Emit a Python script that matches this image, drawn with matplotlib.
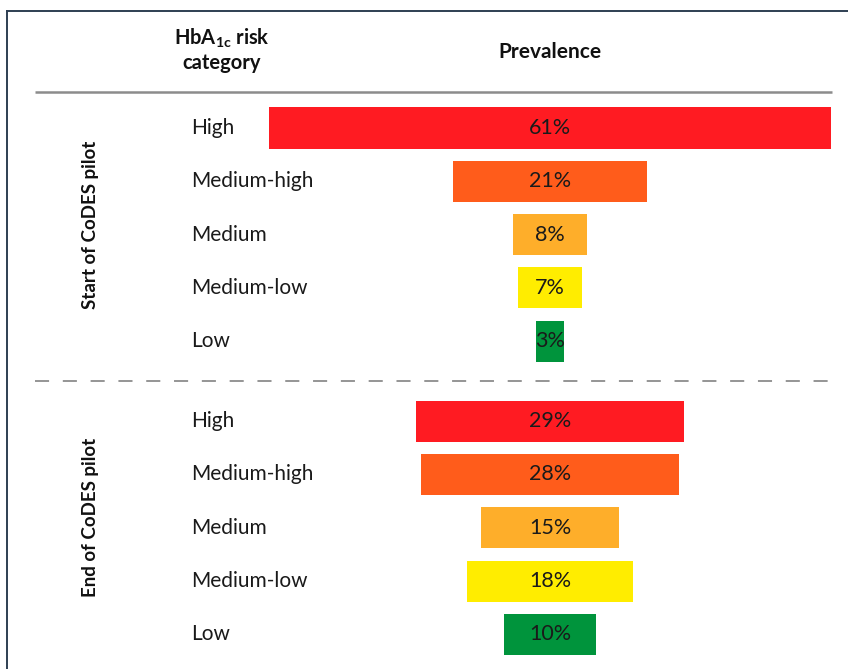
import matplotlib
matplotlib.use("Agg")
import matplotlib.pyplot as plt
from matplotlib.lines import Line2D

plt.rcParams['font.family'] = ['Lato', 'DejaVu Sans']
plt.rcParams['mathtext.fontset'] = 'custom'
plt.rcParams['mathtext.rm'] = 'Lato'
plt.rcParams['mathtext.bf'] = 'Lato:bold'

categories = ['High', 'Medium-high', 'Medium', 'Medium-low', 'Low']
start_pct = [61, 21, 8, 7, 3]
end_pct = [29, 28, 15, 18, 10]
groups = ['Start of CoDES pilot', 'End of CoDES pilot']
colors = ['#FF1B22', '#FF5C1B', '#FEAE2A', '#FFED00', '#00943C']

W, H = 848, 669
fig = plt.figure(figsize=(W / 100, H / 100), dpi=100)
ax = fig.add_axes([0, 0, 1, 1])

# x in percent points, centred on the funnel axis; y in rows
px_per_pct = 9.22
px_per_row = 53.3
x_center_px = 550
row0_px = 128
ax.set_xlim(-x_center_px / px_per_pct, (W - x_center_px) / px_per_pct)
ax.set_ylim((H - row0_px) / px_per_row, -row0_px / px_per_row)
ax.axis('off')

def px_x(p):
    return (p - x_center_px) / px_per_pct

def px_y(p):
    return (p - row0_px) / px_per_row

rows_start = [0, 1, 2, 3, 4]
rows_end = [5.5, 6.5, 7.5, 8.5, 9.5]

for rows, vals in [(rows_start, start_pct), (rows_end, end_pct)]:
    lefts = [-v / 2 for v in vals]
    ax.barh(rows, vals, left=lefts, height=0.77, color=colors, linewidth=0)
    for r, v, cat in zip(rows, vals, categories):
        ax.text(0, r, f'{v}%', ha='center', va='center', fontsize=15.5,
                color='#1a1a1a')
        ax.text(px_x(191), r, cat, ha='left', va='center', fontsize=15,
                color='#1a1a1a')

# group labels, sitting slightly above the middle of their rows
lift = 10 / px_per_row
ax.text(px_x(90), (rows_start[0] + rows_start[-1]) / 2 - lift, groups[0],
        rotation=90, ha='center', va='center', fontsize=13.5,
        fontweight='bold', color='#111111')
ax.text(px_x(90), (rows_end[0] + rows_end[-1]) / 2 - lift, groups[1],
        rotation=90, ha='center', va='center', fontsize=13.5,
        fontweight='bold', color='#111111')

# column headers
ax.text(px_x(222), px_y(50), r'Hb$\mathbf{A_{1c}}$ risk' + '\ncategory',
        ha='center', va='center', fontsize=14.5, fontweight='bold',
        color='#111111', linespacing=1.2)
ax.text(0, px_y(52), 'Prevalence', ha='center', va='center', fontsize=15,
        fontweight='bold', color='#111111')

# header rule and group separator
ax.plot([px_x(35), px_x(832)], [px_y(91.5)] * 2, color='#8c8c8c', lw=1.8,
        solid_capstyle='butt')
ax.plot([px_x(35), px_x(832)], [px_y(381)] * 2, color='#8c8c8c', lw=1.3,
        dashes=(7.8, 7.6))

# frame (top and left edges)
fig.add_artist(Line2D([7 / W, 1], [1 - 11 / H] * 2, color='#2E3F52', lw=1.4))
fig.add_artist(Line2D([7 / W] * 2, [0, 1 - 11 / H], color='#2E3F52', lw=1.4))

fig.savefig('out.png', dpi=100)
